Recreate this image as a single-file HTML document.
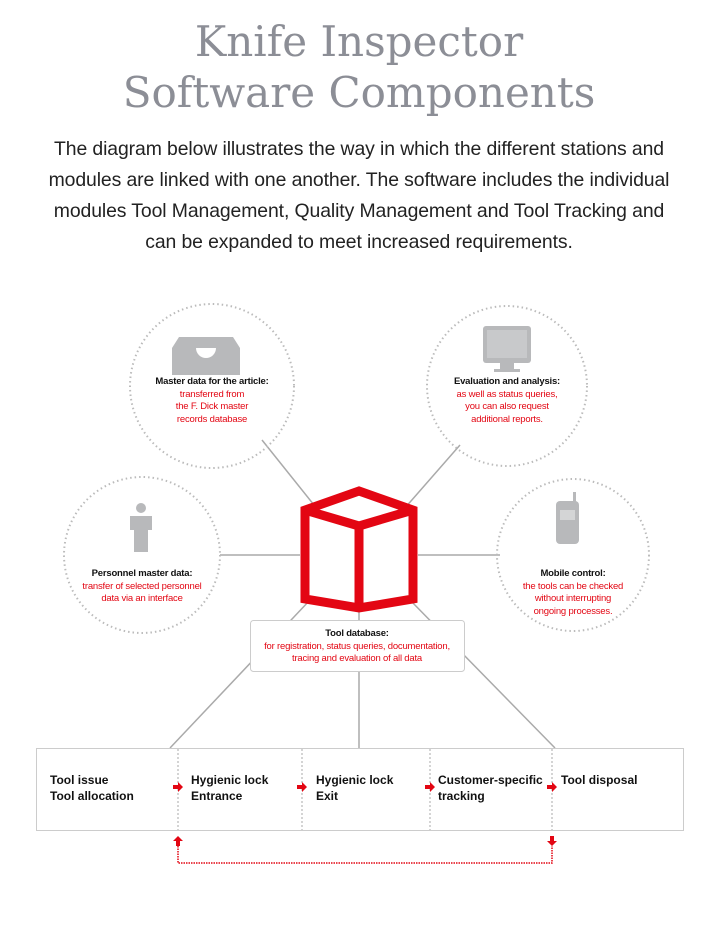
<!DOCTYPE html>
<html><head><meta charset="utf-8"><style>
body{margin:0;background:#fff;width:718px;height:941px;overflow:hidden;position:relative;font-family:"Liberation Sans",sans-serif}
.t{position:absolute;left:0;width:718px;text-align:center;color:#8c8e96;font-family:"DejaVu Serif","Liberation Serif",serif;font-size:42px;line-height:50px}
.p{position:absolute;left:0;width:718px;text-align:center;color:#222;font-size:19.4px;line-height:31px;top:134px;letter-spacing:-0.1px}
.lb{position:absolute;text-align:center;font-size:9.5px;line-height:12.5px;color:#e30613;width:200px;margin-left:-100px;letter-spacing:-0.2px}
.lb b{color:#111}
.st{position:absolute;top:772px;font-size:12px;font-weight:bold;line-height:16px;color:#111}
</style></head><body>
<div class="t" style="top:17px">Knife Inspector</div>
<div class="t" style="top:68px">Software Components</div>
<div class="p">The diagram below illustrates the way in which the different stations and<br>modules are linked with one another. The software includes the individual<br>modules Tool Management, Quality Management and Tool Tracking and<br>can be expanded to meet increased requirements.</div>
<svg width="718" height="941" style="position:absolute;left:0;top:0">
<g stroke="#aaa" stroke-width="1.5">
<line x1="262" y1="440" x2="330" y2="525"/>
<line x1="460" y1="445" x2="390" y2="525"/>
<line x1="220" y1="555" x2="300" y2="555"/>
<line x1="418" y1="555" x2="500" y2="555"/>
<line x1="310" y1="600" x2="170" y2="748"/>
<line x1="359" y1="612" x2="359" y2="748"/>
<line x1="410" y1="600" x2="555" y2="748"/>
</g>
<g fill="none" stroke="#bbb" stroke-width="2" stroke-dasharray="1.5 3">
<circle cx="212" cy="386" r="82"/><circle cx="507" cy="386" r="80"/>
<circle cx="142" cy="555" r="78"/><circle cx="573" cy="555" r="76"/>
</g>
<g fill="#fff" stroke="#e30613" stroke-width="9" stroke-linejoin="miter">
<polygon points="359,491 413,510 413,599 359,608 305,599 305,510"/>
<polyline points="305,510 359,526 413,510" fill="none"/>
<line x1="359" y1="526" x2="359" y2="608"/>
</g>
<rect x="250.5" y="620.5" width="214" height="51" rx="3" fill="#fff" stroke="#ccc"/>
<rect x="36.5" y="748.5" width="647" height="82" fill="#fff" stroke="#ccc"/>
<g stroke="#aaa" stroke-dasharray="2 2"><line x1="178" y1="749" x2="178" y2="830"/><line x1="302" y1="749" x2="302" y2="830"/><line x1="430" y1="749" x2="430" y2="830"/><line x1="552" y1="749" x2="552" y2="830"/></g>
<g fill="#e30613">
<path d="M173,785h5v-3l5,5l-5,5v-3h-5z"/><path d="M297,785h5v-3l5,5l-5,5v-3h-5z"/><path d="M425,785h5v-3l5,5l-5,5v-3h-5z"/><path d="M547,785h5v-3l5,5l-5,5v-3h-5z"/>
<path d="M176,846v-5h-3l5,-5l5,5h-3v5z"/><path d="M550,836v5h-3l5,5l5,-5h-3v-5z"/>
</g>
<polyline points="178,846 178,863 552,863 552,846" fill="none" stroke="#e30613" stroke-width="1.5" stroke-dasharray="1.5 1"/>
<g fill="#b8b9bb">
<path d="M172,348h68v27h-68zM179,337h54l7,11h-68z"/><path d="M196,348a10,10 0 0 0 20,0z" fill="#fff"/>
<rect x="483" y="326" width="48" height="37" rx="3"/><rect x="500" y="363" width="14" height="6"/><rect x="494" y="369" width="26" height="3"/>
<circle cx="141" cy="508" r="5"/><path d="M130,516h22v14h-4v22h-14v-22h-4z"/>
<rect x="556" y="501" width="23" height="43" rx="4"/><rect x="573" y="492" width="3" height="10"/>
</g>
<rect x="487" y="330" width="40" height="28" fill="#c8c9cb"/>
<rect x="560" y="510" width="15" height="10" fill="#fff" opacity=".4"/>
</svg>
<div class="lb" style="left:212px;top:376px"><b>Master data for the article:</b><br>transferred from<br>the F. Dick master<br>records database</div>
<div class="lb" style="left:507px;top:376px"><b>Evaluation and analysis:</b><br>as well as status queries,<br>you can also request<br>additional reports.</div>
<div class="lb" style="left:142px;top:568px"><b>Personnel master data:</b><br>transfer of selected personnel<br>data via an interface</div>
<div class="lb" style="left:573px;top:568px"><b>Mobile control:</b><br>the tools can be checked<br>without interrupting<br>ongoing processes.</div>
<div class="lb" style="left:357px;top:628px;width:230px;margin-left:-115px"><b>Tool database:</b><br>for registration, status queries, documentation,<br>tracing and evaluation of all data</div>
<div class="st" style="left:50px">Tool issue<br>Tool allocation</div>
<div class="st" style="left:191px">Hygienic lock<br>Entrance</div>
<div class="st" style="left:316px">Hygienic lock<br>Exit</div>
<div class="st" style="left:438px">Customer-specific<br>tracking</div>
<div class="st" style="left:561px">Tool disposal</div>
</body></html>
